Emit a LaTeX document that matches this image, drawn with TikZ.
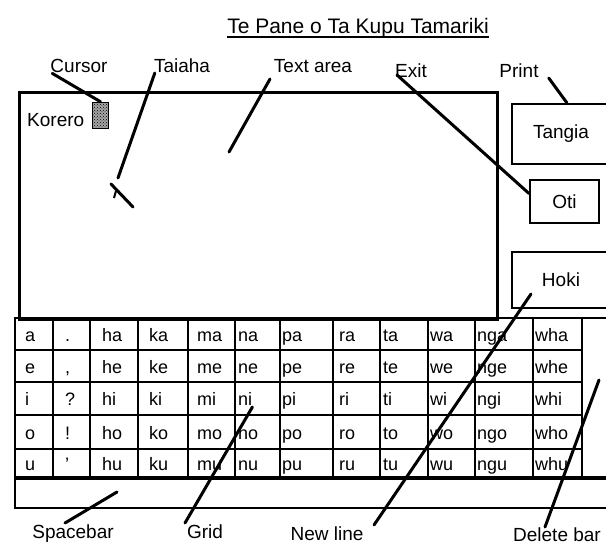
\documentclass[tikz,border=0pt]{standalone}
\usepackage{fontspec}
\setmainfont{Liberation Sans}
\usetikzlibrary{patterns}
\tikzset{lbl/.style={inner sep=0pt, anchor=base, font=\fontsize{19}{21}\selectfont},
btn/.style={draw, line width=2pt, inner sep=0pt, font=\fontsize{19}{21}\selectfont},
key/.style={inner sep=0pt, anchor=base west, font=\fontsize{18}{20}\selectfont},
leader/.style={line width=3pt, line cap=round}}

\begin{document}
\begin{tikzpicture}[x=1pt, y=-1pt]
        \useasboundingbox (0,0) rectangle (606,544);

        \node[lbl, font=\fontsize{21}{24}\selectfont] (title) at (358,33) {Te Pane o Ta Kupu Tamariki};
        \draw[line width=1.5pt] ([yshift=-4pt]title.base west) -- ([yshift=-4pt]title.base east);

        \node[draw, line width=2.5pt, inner sep=0pt, anchor=north west, minimum width=478, minimum height=227] (textarea) at (18,91) {};
        \node[lbl, anchor=base west] (korero) at (27,126) {Korero};
        \node[draw, line width=1.5pt, fill=black!35, postaction={pattern=crosshatch dots}, minimum width=16, minimum height=26, inner sep=0pt] (cursor) at (100.5,115.5) {};

        \node[btn, minimum width=98, minimum height=60] (tangia) at (561,134) {Tangia};
        \node[btn, minimum width=69, minimum height=43] (oti) at (564.5,201.5) {Oti};
        \node[btn, minimum width=98, minimum height=56] (hoki) at (561,280) {Hoki};

        % keyboard
        \draw[line width=2.5pt] (15,318) rectangle (612,478);
        \draw[line width=2.5pt] (15,478) rectangle (612,508);
        \draw[line width=4pt] (15,478) -- (612,478);
        \foreach \y in {350,382,415,449}
            \draw[line width=2pt] (15,\y) -- (582,\y);
        \foreach \x in {53,90,138,188,235,280,333,380,428,475,533,582}
            \draw[line width=2pt] (\x,318) -- (\x,478);

        \foreach \row [count=\r] in {{a,.,ha,ka,ma,na,pa,ra,ta,wa,nga,wha},
                                     {e,{,},he,ke,me,ne,pe,re,te,we,nge,whe},
                                     {i,?,hi,ki,mi,ni,pi,ri,ti,wi,ngi,whi},
                                     {o,!,ho,ko,mo,no,po,ro,to,wo,ngo,who},
                                     {u,',hu,ku,mu,nu,pu,ru,tu,wu,ngu,whu}}
            \foreach \w [count=\c] in \row {
                \pgfmathsetmacro\xx{{25,65,102,149,197,238,282,339,383,430,477,535}[\c-1]}
                \pgfmathsetmacro\yy{{341,373,405,439,470}[\r-1]}
                \node[key] (cell-\r-\c) at (\xx,\yy) {\w};
            }

        % taiaha
        \draw[leader] (111,184) -- (133,207);
        \draw[line width=2pt] (116,191) -- (114,198);

        \node[lbl] (cursorlbl) at (79,72) {Cursor};
        \node[lbl] (taiahalbl) at (182,72) {Taiaha};
        \node[lbl] (textlbl) at (313,72) {Text area};
        \node[lbl] (exitlbl) at (411,77) {Exit};
        \node[lbl] (printlbl) at (519,77) {Print};
        \node[lbl] (spacelbl) at (73,538) {Spacebar};
        \node[lbl] (gridlbl) at (205,538) {Grid};
        \node[lbl] (newlbl) at (327,540) {New line};
        \node[lbl] (deletelbl) at (557,541) {Delete bar};

        \coordinate (taiahatip) at (118,178);
        \coordinate (textpt) at (229,152);
        \coordinate (hokipt) at (531,294);
        \coordinate (spacept) at (117,492);
        \coordinate (deletept) at (599,380);

        \draw[leader] ([xshift=2pt,yshift=-1pt]cursorlbl.south west) -- (cursor.north);
        \draw[leader] ([xshift=1pt]taiahalbl.north west |- 0,73) -- (taiahatip);
        \draw[leader] (270,79) -- (textpt);
        \draw[leader] (397,75) -- ([yshift=8pt]oti.west);
        \draw[leader] ([xshift=10pt]printlbl.east |- 0,78) -- ([xshift=6pt]tangia.north);
        \draw[leader] (spacept) -- (65,523);
        \draw[leader] (cell-3-6.east |- 0,407) -- (185,523);
        \draw[leader] (hokipt) -- (374,525);
        \draw[leader] (deletept) -- (545,527);
\end{tikzpicture}
\end{document}
